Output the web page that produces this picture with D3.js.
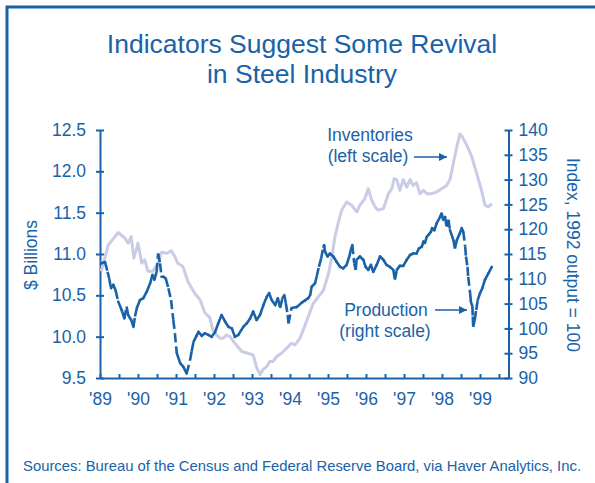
<!DOCTYPE html>
<html>
<head>
<meta charset="utf-8">
<script src="https://cdn.jsdelivr.net/npm/d3@7"></script>
<style>
  body { margin: 0; background: #fff; }
  svg { display: block; font-family: "Liberation Sans", Arial, sans-serif; }
</style>
</head>
<body>
<div id="chart"></div>
<script>
// inventories, $ billions (left scale)
const invYears = [1989.03, 1989.22, 1989.48, 1989.66, 1989.74, 1989.82, 1989.89, 1990.00, 1990.10, 1990.18,
  1990.26, 1990.39, 1990.53, 1990.62, 1990.76, 1990.87, 1990.97, 1991.04, 1991.18, 1991.32,
  1991.50, 1991.63, 1991.76, 1991.89, 1991.97, 1992.07, 1992.16, 1992.24, 1992.33, 1992.42,
  1992.55, 1992.73, 1992.89, 1993.03, 1993.12, 1993.21, 1993.29, 1993.39, 1993.47, 1993.55,
  1993.65, 1993.78, 1993.91, 1994.04, 1994.13, 1994.26, 1994.39, 1994.48, 1994.61, 1994.74,
  1994.88, 1995.01, 1995.10, 1995.18, 1995.27, 1995.36, 1995.49, 1995.62, 1995.76, 1995.84,
  1995.97, 1996.06, 1996.15, 1996.24, 1996.32, 1996.46, 1996.59, 1996.68, 1996.74, 1996.81,
  1996.89, 1996.98, 1997.07, 1997.16, 1997.24, 1997.33, 1997.42, 1997.51, 1997.60, 1997.73,
  1997.86, 1997.99, 1998.12, 1998.21, 1998.30, 1998.39, 1998.47, 1998.53, 1998.65, 1998.78,
  1998.91, 1999.04, 1999.13, 1999.22, 1999.31];
const invValues = [10.79, 11.11, 11.26, 11.19, 11.13, 11.21, 10.95, 11.13, 10.89, 10.93,
  10.79, 10.79, 10.89, 11.02, 11.01, 11.04, 10.97, 10.89, 10.85, 10.66,
  10.52, 10.45, 10.29, 10.23, 10.08, 10.02, 9.98, 9.98, 10.02, 10.00,
  9.92, 9.82, 9.80, 9.78, 9.63, 9.54, 9.60, 9.64, 9.70, 9.70,
  9.76, 9.80, 9.86, 9.92, 9.90, 9.98, 10.13, 10.24, 10.40, 10.48,
  10.56, 10.76, 10.96, 11.20, 11.38, 11.53, 11.63, 11.59, 11.51, 11.59,
  11.67, 11.79, 11.65, 11.57, 11.53, 11.55, 11.73, 11.79, 11.91, 11.90,
  11.77, 11.90, 11.81, 11.90, 11.83, 11.86, 11.73, 11.77, 11.73, 11.73,
  11.75, 11.79, 11.83, 11.90, 12.10, 12.30, 12.45, 12.42, 12.32, 12.18,
  11.98, 11.77, 11.59, 11.57, 11.61];

// production index, 1992 = 100 (right scale)
const prodYears = [1989.03, 1989.13, 1989.20, 1989.24, 1989.29, 1989.35, 1989.41, 1989.48, 1989.57, 1989.64,
  1989.70, 1989.74, 1989.82, 1989.88, 1989.92, 1989.97, 1990.05, 1990.14, 1990.23, 1990.32,
  1990.38, 1990.43, 1990.49, 1990.53, 1990.58, 1990.62, 1990.67, 1990.73, 1990.80, 1990.87,
  1990.93, 1990.97, 1991.02, 1991.11, 1991.19, 1991.28, 1991.37, 1991.41, 1991.46, 1991.54,
  1991.59, 1991.68, 1991.76, 1991.85, 1991.94, 1992.03, 1992.11, 1992.20, 1992.29, 1992.38,
  1992.47, 1992.55, 1992.64, 1992.77, 1992.86, 1992.95, 1993.03, 1993.12, 1993.21, 1993.30,
  1993.39, 1993.45, 1993.52, 1993.61, 1993.68, 1993.74, 1993.80, 1993.85, 1993.89, 1993.94,
  1993.96, 1994.04, 1994.18, 1994.31, 1994.39, 1994.48, 1994.53, 1994.57, 1994.66, 1994.70,
  1994.76, 1994.82, 1994.88, 1994.90, 1994.92, 1994.99, 1995.05, 1995.14, 1995.23, 1995.32,
  1995.40, 1995.49, 1995.56, 1995.61, 1995.64, 1995.69, 1995.73, 1995.75, 1995.84, 1995.93,
  1995.99, 1996.06, 1996.13, 1996.19, 1996.28, 1996.37, 1996.46, 1996.54, 1996.63, 1996.72,
  1996.76, 1996.81, 1996.89, 1996.98, 1997.07, 1997.16, 1997.24, 1997.33, 1997.39, 1997.47,
  1997.51, 1997.55, 1997.60, 1997.64, 1997.71, 1997.74, 1997.80, 1997.86, 1997.95, 1997.99,
  1998.03, 1998.08, 1998.12, 1998.17, 1998.21, 1998.30, 1998.34, 1998.39, 1998.47, 1998.52,
  1998.56, 1998.61, 1998.63, 1998.67, 1998.69, 1998.74, 1998.76, 1998.80, 1998.81, 1998.82,
  1998.86, 1998.90, 1998.94, 1999.00, 1999.06, 1999.13, 1999.22, 1999.31];
const prodValues = [113.1, 113.4, 111.4, 110.1, 108.1, 108.8, 107.7, 105.4, 103.7, 102.0,
  104.4, 102.7, 101.7, 100.3, 102.4, 104.1, 105.7, 106.1, 107.4, 109.1,
  110.8, 109.8, 111.4, 115.1, 113.1, 110.4, 110.4, 110.1, 108.1, 105.7,
  101.7, 99.0, 95.0, 93.0, 92.3, 90.9, 93.6, 95.3, 97.3, 98.5,
  99.3, 98.5, 99.0, 98.7, 98.3, 99.3, 101.0, 102.7, 101.4, 100.3,
  100.0, 98.3, 98.7, 100.3, 101.0, 102.0, 103.4, 101.7, 102.7, 104.7,
  106.4, 107.1, 105.7, 104.7, 106.1, 104.1, 106.1, 106.7, 105.1, 102.7,
  101.0, 104.1, 104.3, 105.2, 105.6, 106.1, 106.7, 108.4, 109.1, 110.4,
  112.4, 114.1, 116.5, 116.8, 115.5, 114.5, 115.1, 114.5, 113.4, 112.4,
  112.1, 112.8, 114.5, 116.1, 116.8, 113.1, 111.8, 113.8, 114.5, 113.8,
  112.4, 111.8, 112.8, 111.4, 112.8, 114.5, 113.8, 112.8, 112.4, 111.8,
  109.8, 111.8, 112.6, 112.6, 113.8, 114.8, 115.1, 115.1, 116.1, 116.5,
  117.5, 117.2, 118.5, 118.8, 119.5, 120.2, 119.8, 121.2, 122.5, 123.2,
  121.9, 122.5, 120.5, 121.9, 119.8, 117.8, 116.1, 117.8, 119.2, 120.2,
  119.5, 116.5, 114.5, 112.4, 110.4, 107.1, 105.4, 104.4, 102.4, 100.3,
  101.7, 103.7, 105.7, 107.1, 108.1, 109.8, 111.1, 112.4];

const leftTicks = [9.5, 10.0, 10.5, 11.0, 11.5, 12.0, 12.5];
const rightTicks = [90, 95, 100, 105, 110, 115, 120, 125, 130, 135, 140];
const yearTicks = [1989, 1990, 1991, 1992, 1993, 1994, 1995, 1996, 1997, 1998, 1999];
const yearLabels = ["'89", "'90", "'91", "'92", "'93", "'94", "'95", "'96", "'97", "'98", "'99"];

var blue = "#1a62a8",
	light = "#c9cce5",
	W = 595, H = 483;

const svg = d3.select("#chart").append("svg")
	.attr("width", W)
	.attr("height", H);

// frame (top and left edge only)
svg.append("path")
	.attr("d", "M7," + H + "V7H" + W)
	.attr("fill", "none")
	.attr("stroke", blue)
	.attr("stroke-width", 3);

const title = svg.append("text")
	.attr("text-anchor", "middle")
	.attr("fill", blue)
	.attr("font-size", 26.5);
title.append("tspan").attr("x", 302).attr("y", 53).text("Indicators Suggest Some Revival");
title.append("tspan").attr("x", 302).attr("y", 83).text("in Steel Industry");

const x = d3.scaleLinear().domain([1989, 1999.75]).range([100, 508.5]);
const yL = d3.scaleLinear().domain([9.5, 12.5]).range([378, 130]);
const yR = d3.scaleLinear().domain([90, 140]).range([378, 130]);

function styleAxis(g) {
	g.select(".domain").attr("stroke", blue).attr("stroke-width", 2);
	g.selectAll(".tick line").attr("stroke", blue).attr("stroke-width", 2);
	g.selectAll(".tick text").attr("fill", blue).attr("font-size", 17.5)
		.attr("font-family", "Liberation Sans, Arial, sans-serif");
}

// x axis: ticks every half year, pointing up
const halfYears = d3.range(1989, 1999.6, 0.5);
const gx = svg.append("g")
	.attr("transform", "translate(0,378)")
	.call(d3.axisBottom(x)
		.tickValues(halfYears)
		.tickSizeInner(-4)
		.tickSizeOuter(0)
		.tickPadding(15)
		.tickFormat(d => {
			const i = yearTicks.indexOf(d);
			return i >= 0 ? yearLabels[i] : "";
		}));
styleAxis(gx);

const gl = svg.append("g")
	.attr("transform", "translate(100,0)")
	.call(d3.axisLeft(yL).tickValues(leftTicks).tickFormat(d3.format(".1f"))
		.tickSizeInner(4).tickSizeOuter(0).tickPadding(10));
styleAxis(gl);
gl.selectAll(".tick line").attr("x1", 4);

const gr = svg.append("g")
	.attr("transform", "translate(508.5,0)")
	.call(d3.axisRight(yR).tickValues(rightTicks)
		.tickSizeInner(4).tickSizeOuter(0).tickPadding(6));
styleAxis(gr);
gr.selectAll(".tick line").attr("x1", -4);

// axis titles
svg.append("text")
	.attr("transform", "translate(37,255) rotate(-90)")
	.attr("text-anchor", "middle")
	.attr("fill", blue)
	.attr("font-size", 17.5)
	.text("$ Billions");

svg.append("text")
	.attr("transform", "translate(567,255) rotate(90)")
	.attr("text-anchor", "middle")
	.attr("fill", blue)
	.attr("font-size", 17.5)
	.text("Index, 1992 output = 100");

// inventories line
const inv = invYears.map((d, i) => [d, invValues[i]]);
svg.append("path")
	.datum(inv)
	.attr("fill", "none")
	.attr("stroke", light)
	.attr("stroke-width", 3)
	.attr("stroke-linejoin", "round")
	.attr("d", d3.line().x(d => x(d[0])).y(d => yL(d[1])));

// production line, steep stretches come out broken as in the print
const prod = prodYears.map((d, i) => [d, prodValues[i]]);
const segs = d3.pairs(prod).map(p => {
	const x1 = x(p[0][0]), y1 = yR(p[0][1]), x2 = x(p[1][0]), y2 = yR(p[1][1]);
	return { x1: x1, y1: y1, x2: x2, y2: y2, steep: Math.abs(y2 - y1) > 3.2 * Math.abs(x2 - x1) && Math.abs(y2 - y1) > 6 };
});
svg.append("g")
	.selectAll("line")
	.data(segs)
	.enter()
	.append("line")
	.attr("x1", d => d.x1).attr("y1", d => d.y1)
	.attr("x2", d => d.x2).attr("y2", d => d.y2)
	.attr("stroke", blue)
	.attr("stroke-width", 2.6)
	.attr("stroke-linecap", d => d.steep ? "butt" : "round")
	.attr("stroke-dasharray", d => d.steep ? "9,4" : null);

// annotations
const ann = svg.append("g").attr("fill", blue).attr("font-size", 17.5).attr("text-anchor", "middle");
ann.append("text").attr("x", 370).attr("y", 141).text("Inventories");
ann.append("text").attr("x", 368).attr("y", 162).text("(left scale)");
ann.append("text").attr("x", 386).attr("y", 316).text("Production");
ann.append("text").attr("x", 385).attr("y", 337).text("(right scale)");

svg.append("defs").append("marker")
	.attr("id", "arr")
	.attr("viewBox", "0 0 10 10")
	.attr("refX", 10).attr("refY", 5)
	.attr("markerWidth", 10).attr("markerHeight", 8)
	.attr("markerUnits", "userSpaceOnUse")
	.attr("orient", "auto")
	.append("path")
	.attr("d", "M0,0L10,5L0,10z")
	.attr("fill", blue);

svg.append("line")
	.attr("x1", 414).attr("y1", 157).attr("x2", 447).attr("y2", 157)
	.attr("stroke", blue).attr("stroke-width", 1.5)
	.attr("marker-end", "url(#arr)");
svg.append("line")
	.attr("x1", 435).attr("y1", 310).attr("x2", 467).attr("y2", 310)
	.attr("stroke", blue).attr("stroke-width", 1.5)
	.attr("marker-end", "url(#arr)");

svg.append("text")
	.attr("x", 23)
	.attr("y", 471)
	.attr("fill", blue)
	.attr("font-size", 14.5)
	.attr("textLength", 558)
	.attr("lengthAdjust", "spacingAndGlyphs")
	.text("Sources: Bureau of the Census and Federal Reserve Board, via Haver Analytics, Inc.");
</script>
</body>
</html>
